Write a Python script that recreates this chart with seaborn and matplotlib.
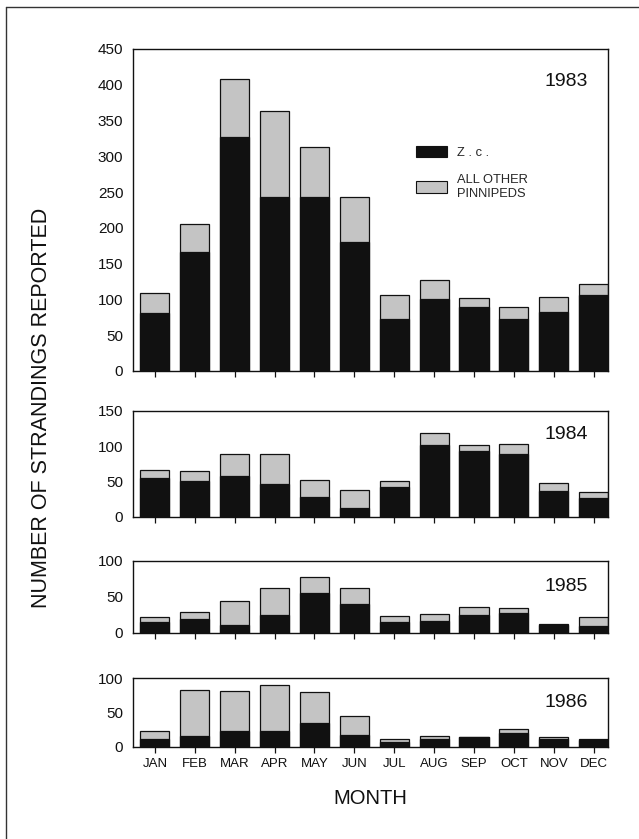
import numpy as np
import pandas as pd
import matplotlib
matplotlib.use("Agg")
import matplotlib.pyplot as plt
from matplotlib.lines import Line2D
from matplotlib.patches import Patch
import seaborn as sns

sns.set_theme(style="white")
plt.rcParams['font.family'] = ['Liberation Sans', 'DejaVu Sans']

# --- data ---
months = ["JAN", "FEB", "MAR", "APR", "MAY", "JUN",
          "JUL", "AUG", "SEP", "OCT", "NOV", "DEC"]
years = ["1983", "1984", "1985", "1986"]

# Zalophus californianus (black part)
zc_1983 = [81, 166, 327, 243, 243, 180, 72, 101, 89, 73, 83, 106]
zc_1984 = [55, 51, 58, 47, 28, 13, 42, 102, 93, 89, 37, 27]
zc_1985 = [15, 19, 11, 25, 55, 40, 15, 17, 25, 28, 11, 10]
zc_1986 = [12, 16, 23, 23, 35, 17, 7, 11, 14, 20, 12, 10]

# total strandings (top of each bar)
total_1983 = [109, 205, 408, 363, 313, 243, 106, 127, 102, 89, 103, 122]
total_1984 = [67, 65, 89, 89, 52, 38, 51, 119, 102, 103, 48, 35]
total_1985 = [22, 29, 44, 63, 78, 63, 23, 26, 36, 35, 12, 22]
total_1986 = [23, 82, 81, 90, 80, 45, 11, 16, 14, 26, 15, 11]

ymax = [450, 150, 100, 100]

zc = [zc_1983, zc_1984, zc_1985, zc_1986]
total = [total_1983, total_1984, total_1985, total_1986]

BLACK = "#111111"
GRAY = "#c4c4c4"

fig = plt.figure(figsize=(6.39, 8.39), dpi=100)

# axes boxes in figure pixels: (top, bottom)
W, H = 639, 839
left_px, right_px = 133, 608
boxes = [(49, 371), (411, 517), (561, 633), (678, 747)]
year_y = [0.90, 0.78, 0.64, 0.65]

axes = []
for i, (top, bot) in enumerate(boxes):
    ax = fig.add_axes([left_px / W, 1 - bot / H,
                       (right_px - left_px) / W, (bot - top) / H])
    df = pd.DataFrame({"month": months, "zc": zc[i], "total": total[i]})
    sns.barplot(data=df, x="month", y="total", order=months, color=GRAY,
                saturation=1, width=0.73, edgecolor=BLACK, linewidth=0.9,
                ax=ax, errorbar=None)
    sns.barplot(data=df, x="month", y="zc", order=months, color=BLACK,
                saturation=1, width=0.73, edgecolor=BLACK, linewidth=0.9,
                ax=ax, errorbar=None)
    ax.set_xlim(-0.55, 11.36)
    ax.set_ylim(0, ymax[i])
    ax.set_yticks(np.arange(0, ymax[i] + 1, 50))
    ax.set_xlabel("")
    ax.set_ylabel("")
    for s in ax.spines.values():
        s.set_color(BLACK)
        s.set_linewidth(1.0)
    ax.tick_params(axis="both", direction="out", length=4, width=0.9,
                   color=BLACK, labelsize=11, pad=2, labelcolor=BLACK)
    ax.tick_params(axis="y", length=5)
    ax.tick_params(axis="x", bottom=True)
    if i < 3:
        ax.set_xticklabels([])
    else:
        ax.tick_params(axis="x", labelsize=9.5, pad=4)
    ax.text(0.958, year_y[i], years[i], transform=ax.transAxes,
            ha="right", va="center", fontsize=14, color=BLACK)
    axes.append(ax)

# legend in the 1983 panel
handles = [Patch(facecolor=BLACK, edgecolor=BLACK, linewidth=0.8),
           Patch(facecolor=GRAY, edgecolor=BLACK, linewidth=0.8)]
axes[0].legend(handles, ["Z . c .", "ALL OTHER\nPINNIPEDS"],
               loc="upper left", bbox_to_anchor=(0.585, 0.715),
               frameon=False, fontsize=9.3, handlelength=2.4,
               handleheight=1.0, handletextpad=0.8, labelspacing=1.15,
               borderaxespad=0)

fig.text(42 / W, 1 - 408 / H, "NUMBER OF STRANDINGS REPORTED",
         rotation=90, ha="center", va="center", fontsize=15.5, color=BLACK)
fig.text((left_px + right_px) / 2 / W, 1 - 798 / H, "MONTH",
         ha="center", va="center", fontsize=14.5, color=BLACK)

# outer frame of the scanned page
fig.add_artist(Line2D([6 / W, 6 / W], [0, 1 - 7 / H], color="#333333",
                      linewidth=1.0, transform=fig.transFigure))
fig.add_artist(Line2D([6 / W, 1], [1 - 7 / H, 1 - 7 / H], color="#333333",
                      linewidth=1.0, transform=fig.transFigure))

fig.savefig("out.png", dpi=100, facecolor="white")
